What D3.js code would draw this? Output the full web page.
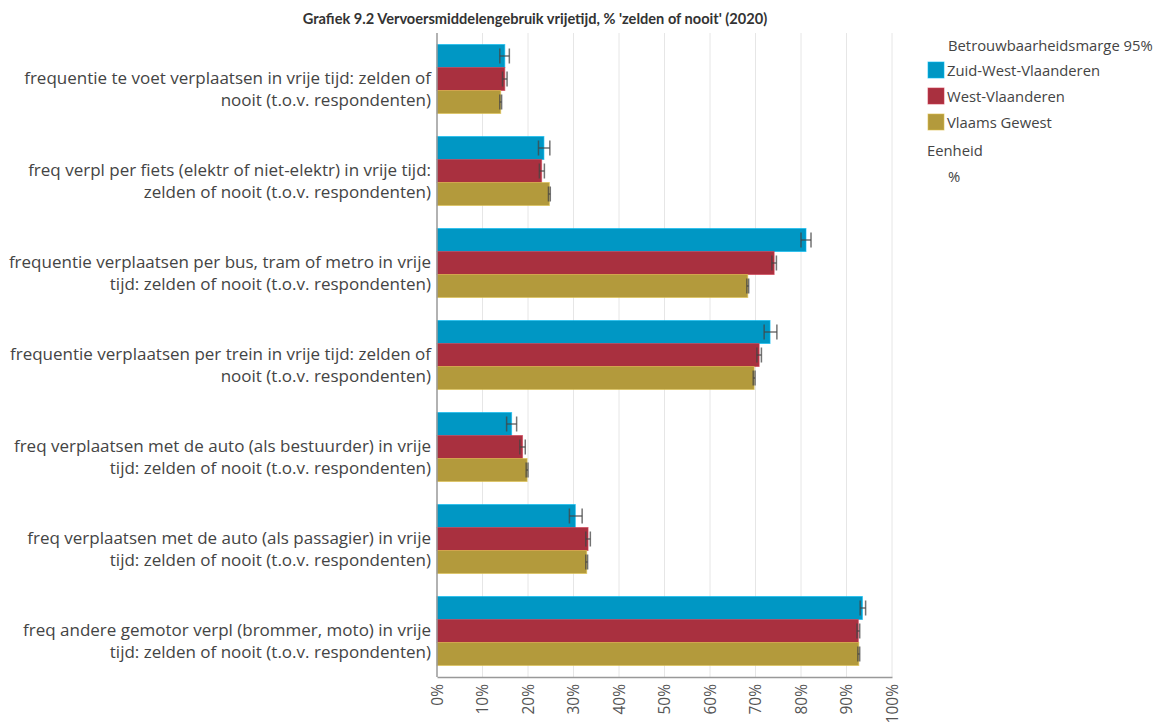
<!DOCTYPE html>
<html>
<head>
<meta charset="utf-8">
<script src="https://cdn.jsdelivr.net/npm/d3@7"></script>
<style>
  html, body { margin: 0; padding: 0; background: #fff; }
  svg { display: block; font-family: "Open Sans", "Noto Sans", sans-serif; }
</style>
</head>
<body>
<svg id="chart" width="1161" height="724"></svg>
<script>
// Category labels, each split over two lines
const categories = [
  ["frequentie te voet verplaatsen in vrije tijd: zelden of", "nooit (t.o.v. respondenten)"],
  ["freq verpl per fiets (elektr of niet-elektr) in vrije tijd:", "zelden of nooit (t.o.v. respondenten)"],
  ["frequentie verplaatsen per bus, tram of metro in vrije", "tijd: zelden of nooit (t.o.v. respondenten)"],
  ["frequentie verplaatsen per trein in vrije tijd: zelden of", "nooit (t.o.v. respondenten)"],
  ["freq verplaatsen met de auto (als bestuurder) in vrije", "tijd: zelden of nooit (t.o.v. respondenten)"],
  ["freq verplaatsen met de auto (als passagier) in vrije", "tijd: zelden of nooit (t.o.v. respondenten)"],
  ["freq andere gemotor verpl (brommer, moto) in vrije", "tijd: zelden of nooit (t.o.v. respondenten)"]
];

const seriesNames = ["Zuid-West-Vlaanderen", "West-Vlaanderen", "Vlaams Gewest"];
const seriesColors = ["#0097c4", "#a9303f", "#b39a3c"];

// Share 'zelden of nooit' (%)
const zuidWestVlaanderen = [14.9, 23.5, 81.1, 73.2, 16.4, 30.4, 93.5];
const westVlaanderen     = [14.9, 23.0, 74.1, 70.8, 18.8, 33.2, 92.6];
const vlaamsGewest       = [14.0, 24.7, 68.3, 69.7, 19.8, 32.9, 92.7];

// 95% confidence interval bounds
const zuidWestVlaanderenLow  = [13.8, 22.3, 80.0, 71.9, 15.3, 29.1, 93.0];
const zuidWestVlaanderenHigh = [15.9, 24.8, 82.2, 74.7, 17.5, 31.9, 94.2];
const westVlaanderenLow      = [14.4, 22.5, 73.6, 70.3, 18.2, 32.7, 92.3];
const westVlaanderenHigh     = [15.4, 23.6, 74.6, 71.3, 19.4, 33.7, 92.9];
const vlaamsGewestLow        = [13.8, 24.5, 68.1, 69.5, 19.6, 32.7, 92.5];
const vlaamsGewestHigh       = [14.2, 24.9, 68.5, 69.9, 20.0, 33.1, 92.9];

const xTicks = [0, 10, 20, 30, 40, 50, 60, 70, 80, 90, 100];

const titleText = "Grafiek 9.2 Vervoersmiddelengebruik vrijetijd, % 'zelden of nooit' (2020)";

const seriesValues = [zuidWestVlaanderen, westVlaanderen, vlaamsGewest];
const seriesLow = [zuidWestVlaanderenLow, westVlaanderenLow, vlaamsGewestLow];
const seriesHigh = [zuidWestVlaanderenHigh, westVlaanderenHigh, vlaamsGewestHigh];

const svg = d3.select("#chart");
const plot = { left: 437, right: 892, top: 33, bottom: 677 };

const x = d3.scaleLinear().domain([0, 100]).range([plot.left, plot.right]);
const y = d3.scaleBand()
  .domain(d3.range(categories.length))
  .range([plot.top, plot.bottom])
  .paddingInner(0.25)
  .paddingOuter(0.125);
const ySub = d3.scaleBand()
  .domain(d3.range(seriesNames.length))
  .range([0, y.bandwidth()]);

// Title
svg.append("text")
  .attr("x", 535).attr("y", 24)
  .attr("text-anchor", "middle")
  .attr("font-family", "Lato, sans-serif")
  .attr("font-size", 14.6).attr("font-weight", "bold")
  .attr("fill", "#333")
  .text(titleText);

// Vertical gridlines
svg.append("g")
  .selectAll("line")
  .data(xTicks.slice(1))
  .join("line")
  .attr("x1", d => x(d)).attr("x2", d => x(d))
  .attr("y1", plot.top).attr("y2", plot.bottom)
  .attr("stroke", "#e6e6e6").attr("stroke-width", 1);

// Bars
const groups = svg.append("g")
  .selectAll("g")
  .data(categories)
  .join("g")
  .attr("transform", (d, i) => `translate(0,${y(i)})`);

groups.each(function(cat, i) {
  const g = d3.select(this);
  seriesNames.forEach((name, s) => {
    g.append("rect")
      .attr("x", x(0))
      .attr("y", ySub(s))
      .attr("width", x(seriesValues[s][i]) - x(0))
      .attr("height", ySub.bandwidth())
      .attr("fill", seriesColors[s])
      .attr("stroke", d3.color(seriesColors[s]).brighter(0.6))
      .attr("stroke-opacity", 0.6)
      .attr("stroke-width", 1);
  });
});

// Error bars
groups.each(function(cat, i) {
  const g = d3.select(this);
  seriesNames.forEach((name, s) => {
    const cy = ySub(s) + ySub.bandwidth() / 2;
    const lo = x(seriesLow[s][i]), hi = x(seriesHigh[s][i]);
    const cap = 7.5;
    const eg = g.append("g")
      .attr("stroke", "#444").attr("stroke-opacity", 0.75)
      .attr("stroke-width", 1.5).attr("fill", "none");
    eg.append("line").attr("x1", lo).attr("x2", hi).attr("y1", cy).attr("y2", cy);
    eg.append("line").attr("x1", lo).attr("x2", lo).attr("y1", cy - cap).attr("y2", cy + cap);
    eg.append("line").attr("x1", hi).attr("x2", hi).attr("y1", cy - cap).attr("y2", cy + cap);
  });
});

// Category labels
const labels = svg.append("g")
  .selectAll("text")
  .data(categories)
  .join("text")
  .attr("text-anchor", "end")
  .attr("font-size", 17)
  .attr("fill", "#444");
labels.each(function(lines, i) {
  const t = d3.select(this);
  const cy = y(i) + y.bandwidth() / 2;
  lines.forEach((line, k) => {
    t.append("tspan")
      .attr("x", 431)
      .attr("y", cy + 5 + k * 22)
      .text(line);
  });
});

// Y axis line
svg.append("line")
  .attr("x1", plot.left).attr("x2", plot.left)
  .attr("y1", plot.top).attr("y2", plot.bottom)
  .attr("stroke", "#999").attr("stroke-width", 1.5);

// X axis
const xAxis = d3.axisBottom(x)
  .tickValues(xTicks)
  .tickFormat(d => d + "%")
  .tickSize(0)
  .tickPadding(0);
const axG = svg.append("g")
  .attr("transform", `translate(0,${plot.bottom})`)
  .call(xAxis);
axG.select(".domain").attr("stroke", "#999").attr("stroke-width", 1.5);
axG.selectAll("text")
  .attr("font-family", "\"Open Sans\", \"Noto Sans\", sans-serif")
  .attr("font-size", 15.5)
  .attr("fill", "#555")
  .attr("text-anchor", "end")
  .attr("dy", null)
  .attr("y", 0)
  .attr("transform", "translate(5,7) rotate(-90)");

// Legend
const legend = svg.append("g").attr("font-size", 14.8).attr("fill", "#444");
legend.append("text").attr("x", 948).attr("y", 51).text("Betrouwbaarheidsmarge 95%");
seriesNames.forEach((name, s) => {
  const ly = 62 + s * 26;
  legend.append("rect")
    .attr("x", 928).attr("y", ly).attr("width", 16).attr("height", 16)
    .attr("fill", seriesColors[s])
    .attr("stroke", d3.color(seriesColors[s]).brighter(0.6))
    .attr("stroke-opacity", 0.6);
  legend.append("text").attr("x", 947).attr("y", ly + 14).text(name);
});
legend.append("text").attr("x", 927).attr("y", 156).text("Eenheid");
legend.append("text").attr("x", 948).attr("y", 182).text("%");
</script>
</body>
</html>
